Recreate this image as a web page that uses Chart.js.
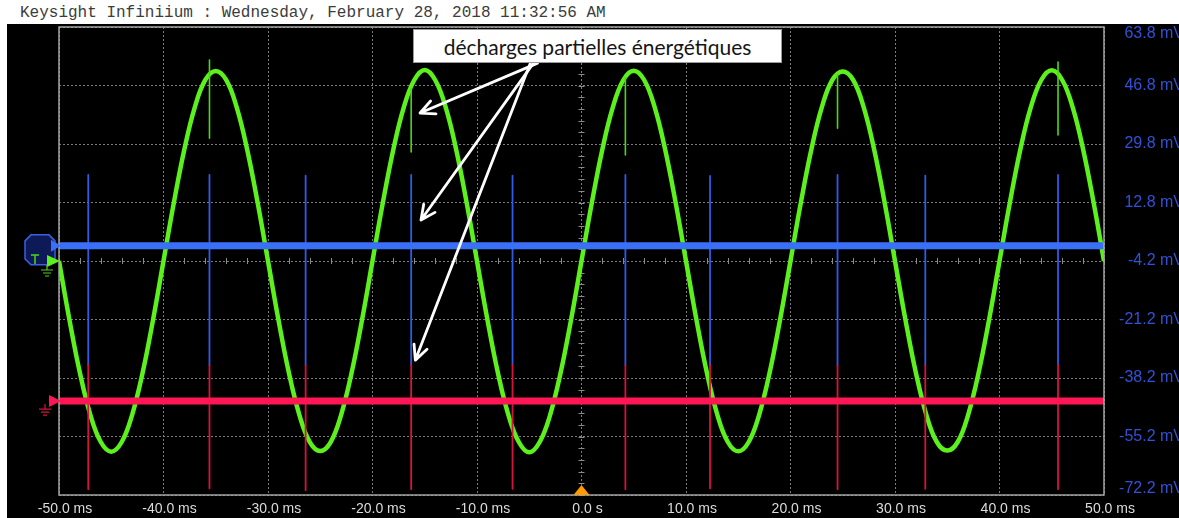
<!DOCTYPE html>
<html>
<head>
<meta charset="utf-8">
<script src="https://cdn.jsdelivr.net/npm/chart.js"></script>
<style>
  html, body { margin:0; padding:0; }
  body { width:1179px; height:518px; background:#fff; position:relative; overflow:hidden; }
  #titre { position:absolute; left:20px; top:3px; font:16px "Liberation Mono", monospace; line-height:20px; color:#3c3c3c; white-space:pre; }
  #ecran { position:absolute; left:7px; top:24px; width:1172px; height:494px; background:#000; overflow:hidden; }
  #ecran canvas { display:block; }
  #note { position:absolute; left:413px; top:29px; width:369px; height:34px; box-sizing:border-box; background:#fff;
          border:1px solid #9a9a9a; font:21px Lato, sans-serif; color:#151515;
          display:flex; align-items:center; justify-content:center; }
</style>
</head>
<body>
<div id="titre">Keysight Infiniium : Wednesday, February 28, 2018 11:32:56 AM</div>
<div id="ecran"><canvas id="scope" width="1177" height="494"></canvas></div>
<div id="note">décharges partielles énergétiques</div>
<script>
// axes
const xTickValues = [-50, -40, -30, -20, -10, 0, 10, 20, 30, 40, 50];
const xTickLabels = ['-50.0 ms', '-40.0 ms', '-30.0 ms', '-20.0 ms', '-10.0 ms', '0.0 s',
                     '10.0 ms', '20.0 ms', '30.0 ms', '40.0 ms', '50.0 ms'];
const yTickValues = [-72.2, -55.2, -38.2, -21.2, -4.2, 12.8, 29.8, 46.8, 63.8];
const yTickLabels = ['-72.2 mV', '-55.2 mV', '-38.2 mV', '-21.2 mV', '-4.2 mV',
                     '12.8 mV', '29.8 mV', '46.8 mV', '63.8 mV'];

// voie 1 (tension, vert) - une valeur par ms
const traceTimes = [-50,-49,-48,-47,-46,-45,-44,-43,-42,-41,-40,-39,-38,-37,-36,-35,-34,-33,-32,-31,
                    -30,-29,-28,-27,-26,-25,-24,-23,-22,-21,-20,-19,-18,-17,-16,-15,-14,-13,-12,-11,
                    -10,-9,-8,-7,-6,-5,-4,-3,-2,-1,0,1,2,3,4,5,6,7,8,9,
                    10,11,12,13,14,15,16,17,18,19,20,21,22,23,24,25,26,27,28,29,
                    30,31,32,33,34,35,36,37,38,39,40,41,42,43,44,45,46,47,48,49,50];
const greenSine = [-4.2,-21.3,-36.7,-48.9,-56.8,-59.6,-56.8,-48.9,-36.7,-21.3,-4.2,12.9,28.3,40.5,48.4,51.0,48.4,40.5,28.3,12.9,
                   -4.2,-21.3,-36.7,-48.9,-56.8,-59.4,-56.8,-48.9,-36.7,-21.3,-4.2,12.9,28.3,40.5,48.4,51.3,48.4,40.5,28.3,12.9,
                   -4.2,-21.3,-36.7,-48.9,-56.8,-59.8,-56.8,-48.9,-36.7,-21.3,-4.2,12.9,28.3,40.5,48.4,51.1,48.4,40.5,28.3,12.9,
                   -4.2,-21.3,-36.7,-48.9,-56.8,-59.5,-56.8,-48.9,-36.7,-21.3,-4.2,12.9,28.3,40.5,48.4,50.9,48.4,40.5,28.3,12.9,
                   -4.2,-21.3,-36.7,-48.9,-56.8,-59.3,-56.8,-48.9,-36.7,-21.3,-4.2,12.9,28.3,40.5,48.4,51.2,48.4,40.5,28.3,12.9,
                   -4.2];

// voies 2 et 3 (bleu, rouge) : lignes de base
const baselineTimes = [-50, 50];
const blueLevel = [0.2, 0.2];
const redLevel = [-44.9, -44.9];

// impulsions (décharges)
const spikeTimes = [-47.2, -35.6, -26.4, -16.3, -6.6, 4.2, 12.3, 24.5, 32.9, 45.6];
const blueSpikeTop = [20.8, 20.8, 20.6, 20.8, 20.6, 20.8, 20.5, 20.8, 20.6, 20.8];
const blueSpikeBottom = [-34.4, -34.4, -34.4, -34.4, -34.4, -34.4, -34.4, -34.4, -34.4, -34.4];
const redSpikeTop = [-34.4, -34.4, -34.4, -34.4, -34.4, -34.4, -34.4, -34.4, -34.4, -34.4];
const redSpikeBottom = [-70.5, -70.3, -70.8, -70.5, -70.4, -70.5, -70.3, -70.5, -70.4, -70.5];
const greenSpikeTimes = [-35.6, -16.3, 4.2, 24.5, 45.6];
const greenSpikeTop = [54.2, 46.0, 49.0, 50.0, 53.6];
const greenSpikeBottom = [31.5, 27.5, 26.6, 34.4, 32.4];

function pts(xs, ys) {
  return xs.map((t, i) => ({ x: t, y: ys[i] }));
}

function segments(xs, tops, bottoms) {
  const out = [];
  xs.forEach((t, i) => {
    out.push({ x: t, y: tops[i] }, { x: t, y: bottoms[i] }, { x: t, y: null });
  });
  return out;
}

// fleches de l'annotation (coordonnees en ms / mV)
const fleches = [
  [-4.2, 53.3, -15.45, 38.8],
  [-4.6, 53.3, -15.36, 7.7],
  [-4.9, 53.3, -15.9, -33.0]
];

function triangleDroite(ctx, xPointe, yy, longueur, demi, couleur) {
  ctx.beginPath();
  ctx.moveTo(xPointe, yy);
  ctx.lineTo(xPointe - longueur, yy - demi);
  ctx.lineTo(xPointe - longueur, yy + demi);
  ctx.closePath();
  ctx.fillStyle = couleur;
  ctx.fill();
}

function masse(ctx, xx, yy, couleur) {
  ctx.strokeStyle = couleur;
  ctx.lineWidth = 1.2;
  ctx.beginPath();
  ctx.moveTo(xx, yy); ctx.lineTo(xx, yy + 5);
  ctx.moveTo(xx - 6, yy + 5); ctx.lineTo(xx + 6, yy + 5);
  ctx.moveTo(xx - 4, yy + 8); ctx.lineTo(xx + 4, yy + 8);
  ctx.moveTo(xx - 2, yy + 11); ctx.lineTo(xx + 2, yy + 11);
  ctx.stroke();
}

const decorScope = {
  id: 'decorScope',
  beforeDatasetsDraw(chart) {
    const { ctx, scales: { x, y } } = chart;
    const yc = y.getPixelForValue(-4.2);
    const xc = x.getPixelForValue(0);
    ctx.save();
    ctx.strokeStyle = '#8a8a8a';
    ctx.lineWidth = 1;
    ctx.beginPath();
    for (let t = -50; t <= 50; t += 2) {
      const px = Math.round(x.getPixelForValue(t)) + 0.5;
      ctx.moveTo(px, yc - 3); ctx.lineTo(px, yc + 3);
    }
    for (let k = 0; k <= 40; k++) {
      const py = Math.round(y.getPixelForValue(-72.2 + k * 3.4)) + 0.5;
      ctx.moveTo(xc - 3, py); ctx.lineTo(xc + 3, py);
    }
    ctx.stroke();
    ctx.restore();
  },
  afterDatasetsDraw(chart) {
    const { ctx, chartArea: a, scales: { x, y } } = chart;
    ctx.save();

    // cadre
    ctx.strokeStyle = '#a4a4a4';
    ctx.lineWidth = 1.5;
    ctx.strokeRect(a.left, a.top, a.right - a.left, a.bottom - a.top);

    // repere voie 2 (octogone bleu)
    const yb = y.getPixelForValue(blueLevel[0]);
    const cx = a.left - 19, cy = yb + 4, r = 15, c = 6;
    ctx.beginPath();
    ctx.moveTo(cx - r + c, cy - r); ctx.lineTo(cx + r - c, cy - r);
    ctx.lineTo(cx + r, cy - r + c); ctx.lineTo(cx + r, cy + r - c);
    ctx.lineTo(cx + r - c, cy + r); ctx.lineTo(cx - r + c, cy + r);
    ctx.lineTo(cx - r, cy + r - c); ctx.lineTo(cx - r, cy - r + c);
    ctx.closePath();
    ctx.fillStyle = '#0e1a58';
    ctx.fill();
    ctx.strokeStyle = '#3d5fe0';
    ctx.lineWidth = 1.5;
    ctx.stroke();
    triangleDroite(ctx, a.left + 2, yb, 10, 6, '#3a6ff7');

    // repere voie 1 (vert)
    const yg = y.getPixelForValue(greenSine[0]);
    ctx.strokeStyle = '#4cd818';
    ctx.lineWidth = 1.5;
    ctx.beginPath();
    ctx.moveTo(a.left - 28, yg - 6); ctx.lineTo(a.left - 20, yg - 6);
    ctx.moveTo(a.left - 24, yg - 6); ctx.lineTo(a.left - 24, yg + 3);
    ctx.stroke();
    triangleDroite(ctx, a.left + 1, yg, 13, 6, '#5cf01c');
    masse(ctx, a.left - 12, yg + 4, '#4cd818');

    // repere voie 3 (rouge)
    const yr = y.getPixelForValue(redLevel[0]);
    triangleDroite(ctx, a.left + 2, yr, 12, 6, '#ff1654');
    masse(ctx, a.left - 14, yr + 3, '#d5133f');

    // declenchement
    const xt = x.getPixelForValue(0);
    ctx.beginPath();
    ctx.moveTo(xt, a.bottom - 10);
    ctx.lineTo(xt - 8, a.bottom);
    ctx.lineTo(xt + 8, a.bottom);
    ctx.closePath();
    ctx.fillStyle = '#ff9a00';
    ctx.fill();

    // fleches blanches
    ctx.strokeStyle = '#ffffff';
    ctx.lineWidth = 2.8;
    ctx.lineCap = 'round';
    ctx.lineJoin = 'round';
    fleches.forEach(f => {
      const x0 = x.getPixelForValue(f[0]), y0 = y.getPixelForValue(f[1]);
      const x1 = x.getPixelForValue(f[2]), y1 = y.getPixelForValue(f[3]);
      const ang = Math.atan2(y1 - y0, x1 - x0);
      ctx.beginPath();
      ctx.moveTo(x0, y0); ctx.lineTo(x1, y1);
      ctx.moveTo(x1 - 16 * Math.cos(ang - 0.45), y1 - 16 * Math.sin(ang - 0.45));
      ctx.lineTo(x1, y1);
      ctx.lineTo(x1 - 16 * Math.cos(ang + 0.45), y1 - 16 * Math.sin(ang + 0.45));
      ctx.stroke();
    });

    ctx.restore();
  }
};

new Chart(document.getElementById('scope'), {
  type: 'line',
  data: {
    datasets: [
      { label: 'Voie 1', data: pts(traceTimes, greenSine), borderColor: '#5cf01c', borderWidth: 4.5, tension: 0.4, order: 6 },
      { label: 'Voie 1 pics', data: segments(greenSpikeTimes, greenSpikeTop, greenSpikeBottom), borderColor: '#4cd818', borderWidth: 1.6, order: 5 },
      { label: 'Voie 2 pics', data: segments(spikeTimes, blueSpikeTop, blueSpikeBottom), borderColor: '#2f5be6', borderWidth: 1.8, order: 4 },
      { label: 'Voie 2', data: pts(baselineTimes, blueLevel), borderColor: '#3a6ff7', borderWidth: 7, order: 3 },
      { label: 'Voie 3 pics', data: segments(spikeTimes, redSpikeTop, redSpikeBottom), borderColor: '#d5133f', borderWidth: 1.8, order: 2 },
      { label: 'Voie 3', data: pts(baselineTimes, redLevel), borderColor: '#ff1654', borderWidth: 7, order: 1 }
    ]
  },
  options: {
    responsive: false,
    animation: false,
    events: [],
    layout: { padding: { left: 52, top: 3, right: 0, bottom: 0 }, autoPadding: false },
    elements: { point: { radius: 0 }, line: { borderJoinStyle: 'round' } },
    plugins: { legend: { display: false }, tooltip: { enabled: false } },
    scales: {
      x: {
        type: 'linear', min: -50, max: 50,
        afterBuildTicks: s => { s.ticks = xTickValues.map(v => ({ value: v })); },
        afterFit: s => { s.height = 23; s.paddingLeft = 0; s.paddingRight = 0; },
        ticks: {
          callback: (v, i) => xTickLabels[i],
          color: '#dcdcdc', font: { family: 'Liberation Sans', size: 14 },
          padding: 6, labelOffset: 6, maxRotation: 0, autoSkip: false
        },
        grid: { color: '#7c7c7c', lineWidth: 1, drawTicks: false },
        border: { display: false, dash: [2, 2] }
      },
      y: {
        position: 'right', min: -72.2, max: 63.8,
        afterBuildTicks: s => { s.ticks = yTickValues.map(v => ({ value: v })); },
        afterFit: s => { s.width = 80; s.paddingTop = 0; s.paddingBottom = 0; },
        ticks: {
          callback: (v, i) => {
            if (i === 0) return [yTickLabels[i], ''];
            if (i === yTickLabels.length - 1) return ['', yTickLabels[i]];
            return yTickLabels[i];
          },
          crossAlign: 'far', color: '#3151d6',
          font: { family: 'Liberation Sans', size: 16, lineHeight: 0.85 },
          padding: 6, autoSkip: false
        },
        grid: { color: '#7c7c7c', lineWidth: 1, drawTicks: false },
        border: { display: false, dash: [2, 2] }
      }
    }
  },
  plugins: [decorScope]
});
</script>
</body>
</html>
